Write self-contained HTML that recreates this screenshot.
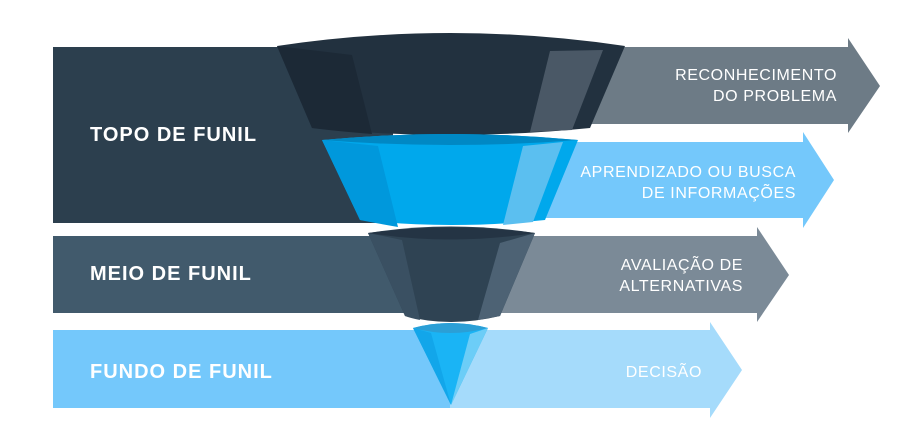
<!DOCTYPE html>
<html><head><meta charset="utf-8"><style>
html,body{margin:0;padding:0;background:#fff;width:900px;height:427px;overflow:hidden}
svg{display:block}
.l{font-family:"Liberation Sans",sans-serif;font-weight:bold;font-size:20px;fill:#fff;letter-spacing:1px}
.r{font-family:"Liberation Sans",sans-serif;font-size:16px;fill:#fff;text-anchor:end;letter-spacing:0.6px}
</style></head><body>
<svg width="900" height="427" viewBox="0 0 900 427">
<polygon points="560,47 848,47 848,38 880,86 848,133 848,124 560,124" fill="#6d7b86"/>
<rect x="53" y="47" width="340" height="176" fill="#2c3f4e"/>
<polygon points="540,142 803,142 803,132 834,180 803,228 803,218 540,218" fill="#74c8fb"/>
<rect x="53" y="236" width="400" height="77" fill="#415a6c"/>
<polygon points="480,236 757,236 757,227 789,275 757,322 757,313 480,313" fill="#7b8a97"/>
<rect x="53" y="330" width="400" height="78" fill="#74c8fb"/>
<polygon points="450,330 710,330 710,322 742,370 710,418 710,408 450,408" fill="#a5dbfb"/>

<path d="M277,46 Q450,20 625,46 L590,128 Q450,142 312,128 Z" fill="#22313f"/>
<path d="M277,46 L352,55 L372,134 Q335,131 312,128 Z" fill="#1c2936"/>
<path d="M550,51 L603,50 L572,130 L530,132 Z" fill="#4a5866"/>
<path d="M322,140 Q450,128 578,140 L545,220 Q450,230 360,220 Z" fill="#00a8ec"/>
<path d="M322,140 Q450,128 578,140 Q450,150 322,140 Z" fill="#0088c4"/>
<path d="M322,140 L378,146 L398,227 Q375,223 360,220 Z" fill="#0098dc"/>
<path d="M523,146 L563,142 L533,222 L503,225 Z" fill="#5bbff0"/>
<path d="M368,233 Q450,220 535,233 L500,316 Q450,328 405,316 Z" fill="#2f4353"/>
<path d="M368,233 Q450,222 535,233 Q450,246 368,233 Z" fill="#243444"/>
<path d="M368,233 L402,240 L420,320 Q410,318 405,316 Z" fill="#3a5062"/>
<path d="M500,243 L535,233 L500,316 L478,320 Z" fill="#4d6274"/>
<path d="M413,328 Q450,318 488,328 L451,405 Z" fill="#1ab4f5"/>
<path d="M413,328 Q450,318 488,328 Q450,338 413,328 Z" fill="#2b9fd6"/>
<path d="M413,328 L431,333 L451,405 Z" fill="#12a6ea"/>
<path d="M470,334 L488,328 L451,405 Z" fill="#6ccdf7"/>

<text class="l" x="90" y="141">TOPO DE FUNIL</text>
<text class="l" x="90" y="280">MEIO DE FUNIL</text>
<text class="l" x="90" y="378">FUNDO DE FUNIL</text>

<text class="r" x="837" y="80">RECONHECIMENTO</text>
<text class="r" x="837" y="101">DO PROBLEMA</text>
<text class="r" x="796" y="177">APRENDIZADO OU BUSCA</text>
<text class="r" x="796" y="198">DE INFORMAÇÕES</text>
<text class="r" x="743" y="270">AVALIAÇÃO DE</text>
<text class="r" x="743" y="291">ALTERNATIVAS</text>
<text class="r" x="702" y="377">DECISÃO</text>
</svg>
</body></html>
